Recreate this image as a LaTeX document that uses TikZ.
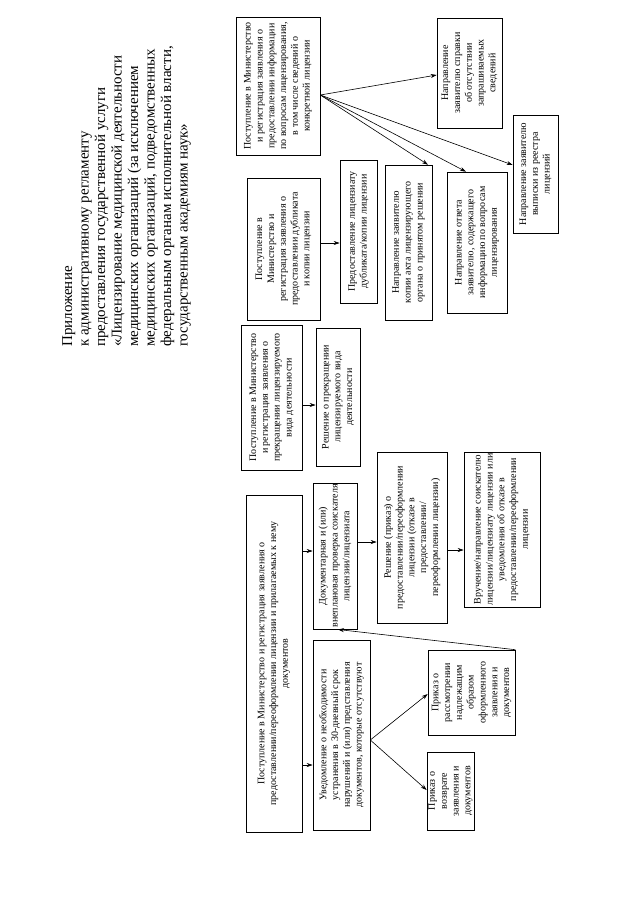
\documentclass[tikz,border=0pt]{standalone}
\usepackage{fontspec}
\setmainfont{Liberation Serif}
\usetikzlibrary{arrows.meta}
\begin{document}
\begin{tikzpicture}[x=1pt,y=-1pt,
  box/.style={draw, line width=0.6pt, rotate=90, align=center, inner sep=1.5pt,
    font=\fontsize{10}{11.8}\selectfont},
  arr/.style={-{Stealth[length=6pt,width=4pt]}, line width=0.6pt},
  head/.style={rotate=90, anchor=north west, align=left, inner sep=0pt,
    font=\fontsize{15}{16.5}\selectfont}]
\useasboundingbox[fill=white] (0,0) rectangle (640,905);

\node[head] (hdr) at (62,347) {Приложение\\
к административному регламенту\\
предоставления государственной услуги\\
«Лицензирование медицинской деятельности\\
медицинских организаций (за исключением\\
медицинских организаций, подведомственных\\
федеральным органам исполнительной власти,\\
государственным академиям наук»};

% information request group
\node[box, minimum width=138, minimum height=84] (E0) at (278,86)
 {Поступление в Министерство\\ и регистрация заявления о\\ предоставлении информации\\ по вопросам лицензирования,\\ в том числе сведений о\\ конкретной лицензии};
\node[box, minimum width=110, minimum height=65] (G1) at (469.5,73)
 {Направление\\ заявителю справки\\ об отсутствии\\ запрашиваемых\\ сведений};
\node[box, minimum width=118, minimum height=45] (G2) at (535.5,174)
 {Направление заявителю\\ выписки из реестра\\ лицензий};
\node[box, minimum width=141, minimum height=60] (G3) at (477,242.5)
 {Направление ответа\\ заявителю, содержащего\\ информацию по вопросам\\ лицензирования};
\node[box, minimum width=155, minimum height=47] (G4) at (408.5,242.5)
 {Направление заявителю\\ копии акта лицензирующего\\ органа о принятом решении};

% duplicate group
\node[box, minimum width=142, minimum height=73] (E1) at (283.5,249)
 {Поступление в\\ Министерство и\\ регистрация заявления о\\ предоставлении дубликата\\ и копии лицензии};
\node[box, minimum width=143, minimum height=37] (F1) at (358.5,231.5)
 {Предоставление лицензиату\\ дубликата/копии лицензии};

% termination group
\node[box, minimum width=145, minimum height=61] (E2) at (271.5,397.5)
 {Поступление в Министерство\\ и регистрация заявления о\\ прекращении лицензируемого\\ вида деятельности};
\node[box, minimum width=138, minimum height=44] (F2) at (338,397)
 {Решение о прекращении\\ лицензируемого вида\\ деятельности};

% main flow
\node[box, minimum width=337, minimum height=56] (A) at (274,663.5)
 {Поступление в Министерство и регистрация заявления о\\ предоставлении/переоформлении лицензии и прилагаемых к нему\\ документов};
\node[box, minimum width=138, minimum height=44] (B1) at (335,556)
 {Документарная и (или)\\ внеплановая проверка соискателя\\ лицензии/лицензиата};
\node[box, minimum width=190, minimum height=57] (B2) at (341.5,735)
 {Уведомление о необходимости\\ устранения в 30-дневный срок\\ нарушений и (или) представления\\ документов, которые отсутствуют};
\node[box, minimum width=171, minimum height=70] (C1) at (412,537.5)
 {Решение (приказ) о\\ предоставлении/переоформлении\\ лицензии (отказе в\\ предоставлении/\\ переоформлении лицензии)};
\node[box, minimum width=85, minimum height=87] (C2) at (471.5,692.5)
 {Приказ о\\ рассмотрении\\ надлежащим\\ образом\\ оформленного\\ заявления и\\ документов};
\node[box, minimum width=78, minimum height=45] (C3) at (450.5,791)
 {Приказ о\\ возврате\\ заявления и\\ документов};
\node[box, minimum width=155, minimum height=76] (D) at (502,529.5)
 {Вручение/направление соискателю\\ лицензии/лицензиату лицензии или\\ уведомления об отказе в\\ предоставлении/переоформлении\\ лицензии};

% connectors
\coordinate (fan) at (E0.south |- 0,95);
\draw[arr] (fan) -- (G1.north |- 0,75);
\draw[arr] (fan) -- (G2.north |- 0,165);
\draw[arr] (fan) -- (G3.east -| 466,0);
\draw[arr] (fan) -- (G4.east -| 428,0);

\draw[arr] (E1.south |- 0,243) -- (F1.north |- 0,243);
\draw[arr] (E2.south |- 0,405) -- (F2.north |- 0,405);

\draw[arr] (A.south |- 0,551) -- (B1.north |- 0,551);
\draw[arr] (A.south |- 0,765) -- (B2.north |- 0,765);
\draw[arr] (B1.south |- 0,542) -- (C1.north |- 0,542);
\draw[arr] (C1.south |- 0,550) -- (D.north |- 0,550);
\draw[arr] (B2.south |- 0,740) -- (C2.north |- 0,694);
\draw[arr] (B2.south |- 0,740) -- (C3.north |- 0,790);
\draw[arr] (C2.south east) -- (B1.west -| 338,0);
\end{tikzpicture}
\end{document}
